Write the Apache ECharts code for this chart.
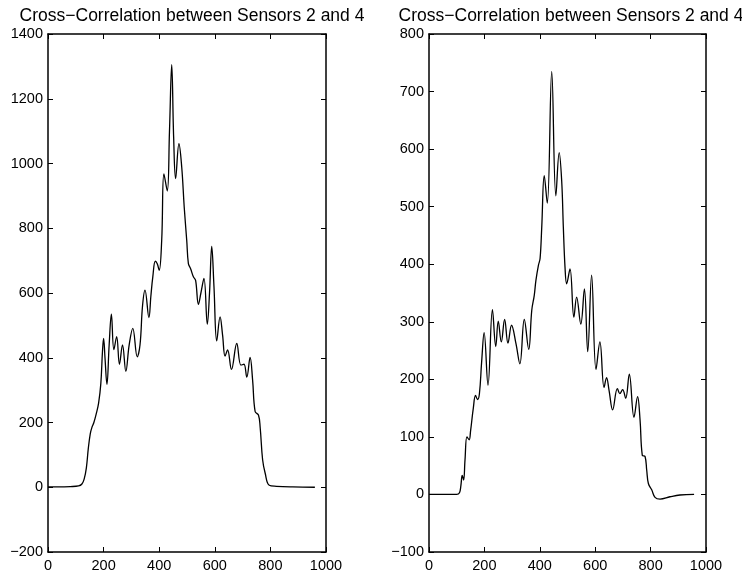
<!DOCTYPE html>
<html>
<head>
<meta charset="utf-8">
<script src="https://cdn.jsdelivr.net/npm/echarts@6/dist/echarts.min.js"></script>
<style>
  html, body { margin: 0; padding: 0; background: #fff; }
  #chart { width: 742px; height: 577px; }
</style>
</head>
<body>
<div id="chart"></div>
<script>
// left panel
const lagLeft = [0, 40, 80, 110, 122, 130, 138, 145, 152, 158, 165, 173, 182, 190, 196, 200, 205, 212, 220, 228, 237, 247, 257, 268, 280, 292, 305, 321, 331, 340, 349, 363, 370, 377, 386, 393, 400, 409, 417, 429, 437, 445, 452, 459, 471, 481, 490, 499, 505, 513, 523, 531, 541, 550, 561, 573, 581, 589, 597, 607, 619, 628, 637, 646, 660, 679, 694, 705, 715, 727, 736, 745, 757, 763, 772, 781, 796, 822, 880, 960];
const corrLeft = [1, 1, 2, 4, 10, 25, 60, 120, 165, 185, 200, 225, 260, 320, 420, 460, 400, 318, 440, 535, 425, 465, 380, 440, 358, 440, 491, 403, 440, 560, 609, 524, 590, 650, 698, 690, 670, 763, 968, 915, 1100, 1305, 1080, 953, 1061, 989, 865, 763, 691, 675, 650, 639, 565, 600, 645, 504, 600, 744, 620, 452, 526, 470, 405, 424, 364, 444, 377, 380, 340, 401, 331, 234, 223, 187, 85, 44, 6, 3, 1, 0];

// right panel
const lagRight = [0, 50, 100, 110, 115, 120, 125, 130, 137, 145, 150, 160, 168, 175, 182, 190, 199, 213, 229, 241, 250, 261, 273, 285, 298, 314, 328, 344, 360, 371, 380, 386, 395, 401, 407, 416, 427, 443, 458, 470, 479, 485, 491, 497, 509, 523, 533, 548, 561, 573, 587, 603, 617, 632, 641, 650, 663, 680, 689, 699, 710, 723, 740, 753, 762, 770, 780, 786, 792, 804, 816, 834, 870, 906, 957];
const corrRight = [0, 0, 0, 3, 15, 33, 25, 60, 100, 95, 110, 150, 172, 165, 175, 230, 281, 190, 321, 257, 301, 265, 304, 263, 294, 262, 227, 304, 252, 320, 346, 372, 398, 410, 464, 554, 506, 735, 519, 594, 545, 464, 395, 366, 392, 308, 343, 296, 357, 248, 381, 217, 265, 186, 203, 181, 147, 184, 175, 182, 167, 209, 134, 170, 129, 68, 66, 42, 19, 8, -5, -8, -4, -1, 0];

const titleText = "Cross\u2212Correlation between Sensors 2 and 4";
const font = "Liberation Sans, Arial, Helvetica, sans-serif";

const chart = echarts.init(document.getElementById("chart"));

function minus(v) {
  return String(v).replace("-", "\u2212");
}

// axis with ticks pointing inward, box style
function xAx(grid, pos, showLabel) {
  return {
    type: "value", gridIndex: grid, position: pos,
    min: 0, max: 1000, interval: 200,
    axisLine: { onZero: false, lineStyle: { color: "#000", width: 1.5 } },
    axisTick: { inside: true, length: 5, lineStyle: { color: "#000" } },
    axisLabel: { show: showLabel, color: "#000", fontSize: 14.5, fontFamily: font, margin: 6, formatter: minus },
    splitLine: { show: false }
  };
}
function yAx(grid, pos, showLabel, lo, hi, step) {
  return {
    type: "value", gridIndex: grid, position: pos,
    min: lo, max: hi, interval: step,
    axisLine: { onZero: false, lineStyle: { color: "#000", width: 1.5 } },
    axisTick: { inside: true, length: 5, lineStyle: { color: "#000" } },
    axisLabel: { show: showLabel, color: "#000", fontSize: 14.5, fontFamily: font, margin: 5, formatter: minus },
    splitLine: { show: false }
  };
}

function pairs(xs, ys) {
  return xs.map((x, i) => [x, ys[i]]);
}

const option = {
  animation: false,
  backgroundColor: "#fff",
  title: [
    { text: titleText, left: 187, top: 2, textAlign: "center",
      textStyle: { fontSize: 17.5, fontWeight: "normal", color: "#000", fontFamily: font } },
    { text: titleText, left: 566, top: 2, textAlign: "center",
      textStyle: { fontSize: 17.5, fontWeight: "normal", color: "#000", fontFamily: font } }
  ],
  grid: [
    { left: 48, top: 34, width: 278, height: 518 },
    { left: 429, top: 34, width: 277, height: 518 }
  ],
  xAxis: [
    xAx(0, "bottom", true), xAx(0, "top", false),
    xAx(1, "bottom", true), xAx(1, "top", false)
  ],
  yAxis: [
    yAx(0, "left", true, -200, 1400, 200), yAx(0, "right", false, -200, 1400, 200),
    yAx(1, "left", true, -100, 800, 100), yAx(1, "right", false, -100, 800, 100)
  ],
  series: [
    { type: "line", xAxisIndex: 0, yAxisIndex: 0, data: pairs(lagLeft, corrLeft),
      smooth: 0.4, showSymbol: false, lineStyle: { color: "#000", width: 1.3 } },
    { type: "line", xAxisIndex: 2, yAxisIndex: 2, data: pairs(lagRight, corrRight),
      smooth: 0.4, showSymbol: false, lineStyle: { color: "#000", width: 1.3 } }
  ]
};

chart.setOption(option);
</script>
</body>
</html>
